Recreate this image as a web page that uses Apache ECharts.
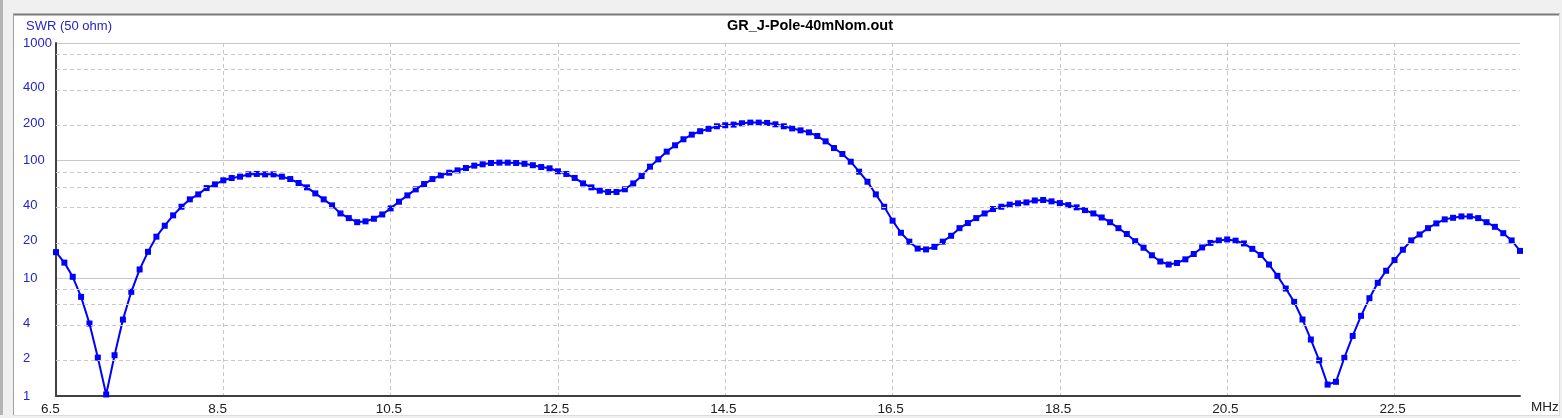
<!DOCTYPE html>
<html>
<head>
<meta charset="utf-8">
<script src="https://cdn.jsdelivr.net/npm/echarts@6/dist/echarts.min.js"></script>
<style>
  html, body { margin: 0; padding: 0; background: #ffffff; }
  #chart { width: 1562px; height: 418px; }
</style>
</head>
<body>
<div id="chart"></div>
<script>
// ---- Data ----
const TITLE = 'GR_J-Pole-40mNom.out';
const Y_NAME = 'SWR (50 ohm)';
const X_UNIT = 'MHz';

const FREQ_MHZ = [
  6.5, 6.6, 6.7, 6.8, 6.9, 7.0, 7.1, 7.2, 7.3, 7.4,
  7.5, 7.6, 7.7, 7.8, 7.9, 8.0, 8.1, 8.2, 8.3, 8.4,
  8.5, 8.6, 8.7, 8.8, 8.9, 9.0, 9.1, 9.2, 9.3, 9.4,
  9.5, 9.6, 9.7, 9.8, 9.9, 10.0, 10.1, 10.2, 10.3, 10.4,
  10.5, 10.6, 10.7, 10.8, 10.9, 11.0, 11.1, 11.2, 11.3, 11.4,
  11.5, 11.6, 11.7, 11.8, 11.9, 12.0, 12.1, 12.2, 12.3, 12.4,
  12.5, 12.6, 12.7, 12.8, 12.9, 13.0, 13.1, 13.2, 13.3, 13.4,
  13.5, 13.6, 13.7, 13.8, 13.9, 14.0, 14.1, 14.2, 14.3, 14.4,
  14.5, 14.6, 14.7, 14.8, 14.9, 15.0, 15.1, 15.2, 15.3, 15.4,
  15.5, 15.6, 15.7, 15.8, 15.9, 16.0, 16.1, 16.2, 16.3, 16.4,
  16.5, 16.6, 16.7, 16.8, 16.9, 17.0, 17.1, 17.2, 17.3, 17.4,
  17.5, 17.6, 17.7, 17.8, 17.9, 18.0, 18.1, 18.2, 18.3, 18.4,
  18.5, 18.6, 18.7, 18.8, 18.9, 19.0, 19.1, 19.2, 19.3, 19.4,
  19.5, 19.6, 19.7, 19.8, 19.9, 20.0, 20.1, 20.2, 20.3, 20.4,
  20.5, 20.6, 20.7, 20.8, 20.9, 21.0, 21.1, 21.2, 21.3, 21.4,
  21.5, 21.6, 21.7, 21.8, 21.9, 22.0, 22.1, 22.2, 22.3, 22.4,
  22.5, 22.6, 22.7, 22.8, 22.9, 23.0, 23.1, 23.2, 23.3, 23.4,
  23.5, 23.6, 23.7, 23.8, 23.9, 24.0
];

const SWR = [
  16.7, 13.6, 10.3, 6.96, 4.13, 2.12, 1.03, 2.22, 4.46, 7.68,
  11.9, 16.8, 22.6, 28.0, 34.3, 40.6, 46.9, 51.7, 58.5, 62.9,
  68.1, 71.2, 73.1, 76.5, 77.1, 76.5, 76.5, 73.1, 69.8, 64.6,
  59.3, 52.7, 46.9, 41.7, 35.6, 32.5, 30.0, 30.5, 32.1, 34.9,
  39.3, 44.8, 50.7, 57.0, 63.3, 69.8, 75.0, 79.0, 82.7, 86.6,
  90.7, 93.1, 95.5, 96.2, 96.2, 95.5, 94.0, 91.5, 88.3, 86.1,
  81.2, 77.1, 71.3, 64.1, 59.3, 55.6, 54.2, 54.2, 57.1, 64.1,
  74.0, 88.9, 102.6, 119.3, 135.1, 152, 166.4, 178, 186.4, 196,
  200, 202.5, 207.8, 210.6, 210.6, 209.3, 203.7, 196, 188, 181,
  174, 162, 146, 128, 114, 98, 80.6, 66.2, 51.7, 40.6,
  30.9, 24.4, 20.5, 17.9, 17.6, 18.5, 20.5, 23.0, 26.7, 29.5,
  32.5, 35.6, 38.8, 40.6, 42.3, 43.4, 44.2, 45.9, 46.3, 45.1,
  43.6, 41.9, 40.1, 38.0, 35.6, 32.9, 30.0, 26.7, 23.8, 20.7,
  18.2, 15.7, 13.9, 13.1, 13.5, 14.5, 16.1, 18.3, 20.0, 21.0,
  21.4, 20.9, 19.8, 17.8, 15.8, 13.1, 10.5, 8.19, 6.31, 4.47,
  3.02, 2.01, 1.25, 1.32, 2.11, 3.24, 4.80, 6.78, 9.16, 11.6,
  14.3, 17.5, 21.0, 23.6, 26.7, 29.3, 31.7, 32.7, 33.6, 33.6,
  32.5, 30.0, 27.4, 24.2, 21.0, 17.1
];

// Y grid: dashed minor lines, and which of them carry a label
const Y_MINOR_GRID = [2, 4, 6, 8, 20, 40, 60, 80, 200, 400, 600, 800];
const Y_MINOR_LABELS = [2, 4, 20, 40, 200, 400];

// ---- Chart ----
const FONT = 'Liberation Sans';
const BLUE_TEXT = '#2424c8';
const GRID_GRAY = '#c8c8c8';

const chart = echarts.init(document.getElementById('chart'), null, { renderer: 'canvas' });

const minorLines = Y_MINOR_GRID.map(v => ({
  yAxis: v,
  label: {
    show: Y_MINOR_LABELS.indexOf(v) >= 0,
    position: 'start',
    distance: 3,
    formatter: '{a|' + v + '}',
    padding: [0, 0, 4, 0],
    rich: { a: { width: 30, align: 'left', color: BLUE_TEXT, fontFamily: FONT, fontSize: 13 } }
  }
}));

const option = {
  animation: false,
  backgroundColor: '#ffffff',
  grid: { left: 56, right: 42, top: 43, bottom: 22, containLabel: false },
  xAxis: {
    type: 'value',
    min: 6.5,
    max: 24,
    interval: 2,
    axisLine: { show: true, onZero: false, lineStyle: { color: '#404040', width: 2 } },
    axisTick: { show: false },
    axisLabel: {
      margin: 6,
      showMaxLabel: false,
      formatter: v => (v >= 24 ? '' : '{a|' + v.toFixed(1) + '}'),
      rich: { a: { width: 30, align: 'left', color: '#202020', fontFamily: FONT, fontSize: 13.5 } }
    },
    splitLine: {
      show: true,
      showMinLine: false,
      showMaxLine: false,
      lineStyle: { type: [4, 3], color: GRID_GRAY, width: 1 }
    }
  },
  yAxis: {
    type: 'log',
    logBase: 10,
    min: 1,
    max: 1000,
    axisLine: { show: true, lineStyle: { color: '#404040', width: 2 } },
    axisTick: { show: false },
    axisLabel: {
      align: 'left',
      margin: 33,
      color: BLUE_TEXT,
      fontFamily: FONT,
      fontSize: 13,
      padding: [0, 0, 4, 0],
      formatter: v => String(Math.round(v))
    },
    splitLine: {
      show: true,
      showMinLine: false,
      lineStyle: { type: 'solid', color: GRID_GRAY, width: 1 }
    }
  },
  series: [
    {
      type: 'line',
      data: [],
      z: 1,
      silent: true,
      markLine: {
        silent: true,
        symbol: 'none',
        animation: false,
        lineStyle: { type: [4, 3], color: GRID_GRAY, width: 1 },
        emphasis: { disabled: true },
        data: minorLines
      }
    },
    {
      type: 'line',
      z: 3,
      data: FREQ_MHZ.map((f, i) => [f, SWR[i]]),
      symbol: 'rect',
      symbolSize: 6,
      showSymbol: true,
      lineStyle: { color: '#0000ff', width: 2 },
      itemStyle: { color: '#0000ff' },
      silent: true
    }
  ],
  graphic: [
    // window frame
    { type: 'rect', shape: { x: 0, y: 0, width: 1562, height: 14 }, style: { fill: '#f0f0f0' }, silent: true },
    { type: 'rect', shape: { x: 0, y: 0, width: 13, height: 418 }, style: { fill: '#f0f0f0' }, silent: true },
    { type: 'rect', shape: { x: 0, y: 0, width: 3, height: 418 }, style: { fill: '#b4b4b4' }, silent: true },
    { type: 'rect', shape: { x: 1559, y: 0, width: 3, height: 418 }, style: { fill: '#f0f0f0' }, silent: true },
    { type: 'rect', shape: { x: 0, y: 415, width: 1562, height: 3 }, style: { fill: '#f0f0f0' }, silent: true },
    { type: 'line', shape: { x1: 13, y1: 14.5, x2: 1560, y2: 14.5 }, style: { stroke: '#7a7a7a', lineWidth: 2 }, silent: true },
    { type: 'line', shape: { x1: 13.5, y1: 14, x2: 13.5, y2: 415 }, style: { stroke: '#a0a0a0', lineWidth: 1 }, silent: true },
    { type: 'line', shape: { x1: 1559.5, y1: 14, x2: 1559.5, y2: 415 }, style: { stroke: '#dcdcdc', lineWidth: 1 }, silent: true },
    { type: 'line', shape: { x1: 13, y1: 415.5, x2: 1560, y2: 415.5 }, style: { stroke: '#dcdcdc', lineWidth: 1 }, silent: true },
    // texts
    { type: 'text', x: 810, y: 26, style: { text: TITLE, fill: '#000000', font: 'bold 14.5px "Liberation Sans"', textAlign: 'center', textVerticalAlign: 'middle' }, silent: true },
    { type: 'text', x: 26, y: 26, style: { text: Y_NAME, fill: BLUE_TEXT, font: '13px "Liberation Sans"', textAlign: 'left', textVerticalAlign: 'middle' }, silent: true },
    { type: 'text', x: 1531, y: 407, style: { text: X_UNIT, fill: '#202020', font: '13.5px "Liberation Sans"', textAlign: 'left', textVerticalAlign: 'middle' }, silent: true }
  ]
};

chart.setOption(option);
</script>
</body>
</html>
